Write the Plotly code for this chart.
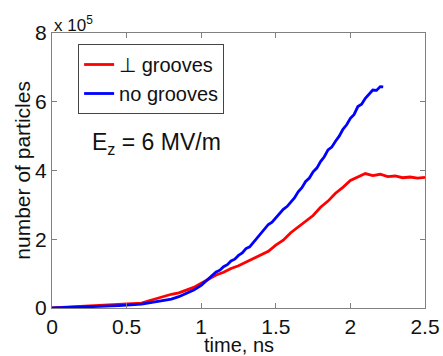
import plotly.graph_objects as go

# time (ns) and particle counts (units of 1e5)
t_blue = [0.0, 0.05, 0.1, 0.15, 0.2, 0.25, 0.3, 0.35, 0.4, 0.45, 0.5, 0.55, 0.6, 0.65,
          0.7, 0.75, 0.8, 0.85, 0.9, 0.95,
          1.0, 1.025, 1.05, 1.075, 1.1, 1.125, 1.15, 1.175, 1.2, 1.225, 1.25, 1.275,
          1.3, 1.325, 1.35, 1.375, 1.4, 1.425, 1.45, 1.475, 1.5, 1.525, 1.55, 1.575,
          1.6, 1.625, 1.65, 1.675, 1.7, 1.725, 1.75, 1.775, 1.8, 1.825, 1.85, 1.875,
          1.9, 1.925, 1.95, 1.975, 2.0, 2.025, 2.05, 2.075, 2.1, 2.125, 2.15, 2.175,
          2.2, 2.22]
n_blue = [0.0, 0.005, 0.01, 0.015, 0.02, 0.03, 0.04, 0.05, 0.06, 0.07, 0.08, 0.09, 0.11, 0.15,
          0.18, 0.22, 0.26, 0.33, 0.42, 0.52,
          0.66, 0.76, 0.86, 0.95, 1.05, 1.10, 1.20, 1.26, 1.37, 1.42, 1.53, 1.60,
          1.73, 1.78, 1.91, 2.02, 2.17, 2.27, 2.43, 2.50, 2.62, 2.72, 2.87, 2.95,
          3.09, 3.20, 3.38, 3.50, 3.68, 3.78, 3.96, 4.07, 4.26, 4.40, 4.60, 4.68,
          4.85, 5.00, 5.20, 5.33, 5.52, 5.63, 5.86, 5.93, 6.10, 6.22, 6.34, 6.33,
          6.44, 6.43]

t_red = [0.0, 0.1, 0.2, 0.3, 0.4, 0.5, 0.6, 0.65, 0.7, 0.75, 0.8, 0.85, 0.9, 0.95,
         1.0, 1.05, 1.1, 1.15, 1.2, 1.25, 1.3, 1.35, 1.4, 1.45, 1.5, 1.55, 1.6, 1.65,
         1.7, 1.75, 1.8, 1.85, 1.9, 1.95, 2.0, 2.05, 2.1, 2.15, 2.2, 2.25, 2.3, 2.35,
         2.4, 2.45, 2.5]
n_red = [0.0, 0.02, 0.04, 0.07, 0.09, 0.11, 0.14, 0.21, 0.28, 0.33, 0.40, 0.44, 0.53, 0.60,
         0.72, 0.85, 0.96, 1.04, 1.15, 1.23, 1.34, 1.43, 1.55, 1.65, 1.83, 1.97, 2.19, 2.35,
         2.53, 2.69, 2.93, 3.11, 3.34, 3.51, 3.71, 3.81, 3.91, 3.85, 3.89, 3.82, 3.84, 3.79,
         3.81, 3.78, 3.80]

series_names = ["\u22a5 grooves", "no grooves"]
x_ticks = [0, 0.5, 1, 1.5, 2, 2.5]
x_tick_text = ["0", "0.5", "1", "1.5", "2", "2.5"]
y_ticks = [0, 2, 4, 6, 8]

FONT = "Liberation Sans, Arial, sans-serif"
TXT = "#111"

fig = go.Figure()
fig.add_trace(go.Scatter(x=t_red, y=n_red, mode="lines", name=series_names[0],
                         line=dict(color="#ff0000", width=2.8)))
fig.add_trace(go.Scatter(x=t_blue, y=n_blue, mode="lines", name=series_names[1],
                         line=dict(color="#0000ff", width=2.8)))

axis_common = dict(showline=True, linecolor="#808080", linewidth=1, mirror="ticks",
                   ticks="inside", ticklen=5, tickcolor="#808080", showgrid=False,
                   zeroline=False, automargin=False,
                   tickfont=dict(family=FONT, size=21, color=TXT))

fig.update_xaxes(range=[0, 2.5], tickvals=x_ticks, ticktext=x_tick_text, **axis_common)
fig.update_yaxes(range=[0, 8], tickvals=y_ticks, **axis_common)

fig.add_annotation(xref="paper", yref="paper", x=0.5, y=-0.133, xanchor="center", yanchor="middle",
                   text="time, ns", showarrow=False,
                   font=dict(family=FONT, size=20, color=TXT))
fig.add_annotation(xref="paper", yref="paper", x=-0.08, y=0.5, xanchor="center", yanchor="middle",
                   text="number of particles", showarrow=False, textangle=-90,
                   font=dict(family=FONT, size=21, color=TXT))
fig.add_annotation(xref="paper", yref="paper", x=0, y=1, xanchor="left", yanchor="bottom",
                   text="x 10<sup>5</sup>", showarrow=False, yshift=-4,
                   font=dict(family=FONT, size=17, color=TXT))
fig.add_annotation(xref="paper", yref="paper", x=0.279, y=0.599, xanchor="center", yanchor="middle",
                   text="E<sub>z</sub> = 6 MV/m", showarrow=False,
                   font=dict(family=FONT, size=23, color=TXT))

fig.update_layout(
    width=443, height=356,
    margin=dict(l=52, r=18, t=33, b=48),
    paper_bgcolor="white", plot_bgcolor="white",
    showlegend=True,
    legend=dict(x=0.07, y=0.96, xanchor="left", yanchor="top",
                bgcolor="white", bordercolor="#444", borderwidth=1,
                font=dict(family=FONT, size=20, color=TXT),
                itemwidth=30, tracegroupgap=0),
)

fig.write_html("out.html", config={"displayModeBar": False},
               post_script="document.body.style.margin='0';document.body.style.overflow='hidden';")
